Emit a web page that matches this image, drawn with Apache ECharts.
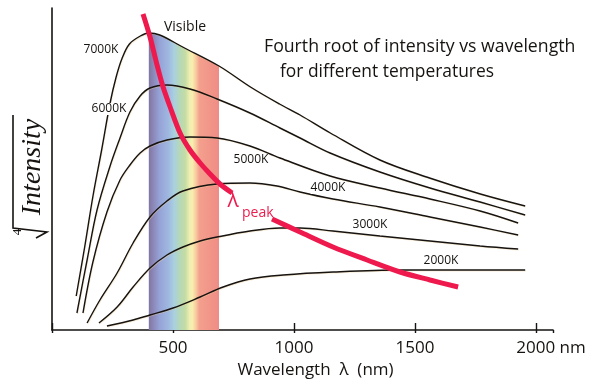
<!DOCTYPE html>
<html><head><meta charset="utf-8">
<script src="https://cdn.jsdelivr.net/npm/echarts/dist/echarts.min.js"></script>
<style>html,body{margin:0;padding:0;background:#fff}#c{width:599px;height:388px}</style>
</head><body><div id="c"></div>
<script>
// ---- data (wavelength nm, fourth-root intensity in arbitrary units) ----
const xTicks = [500, 1000, 1500, 2000];
const visibleRange = [400, 690];
const k7000 = [[100,34],[135,83],[170,135],[205,180],[240,227],[265,253],[290,272],[320,286],[365,294],[400,297],[445,295],[540,283],[690,264],[820,243],[940,226],[1025,215],[1150,197],[1355,170],[1560,152],[1770,136],[1955,124]];
const k6000 = [[103,17],[145,70],[186,120],[240,164],[281,192],[322,218],[364,234],[405,242],[475,245],[570,241],[682,231],[818,217],[942,202],[1025,192],[1149,177],[1355,158],[1562,142],[1769,128],[1955,115]];
const k5000 = [[128,17],[169,68],[227,118],[281,150],[322,165],[364,177],[405,184],[475,190],[570,193],[682,192],[818,184],[942,172],[1149,154],[1355,142],[1562,131],[1769,119],[1926,107]];
const k4000 = [[145,7],[198,30],[269,57],[335,87],[405,113],[475,129],[541,139],[682,146],[818,147],[930,144],[1025,138],[1161,131],[1355,123],[1562,113],[1769,103],[1926,95]];
const k3000 = [[194,7],[269,23],[335,43],[405,62],[475,75],[541,83],[612,89],[682,93],[818,99],[942,102],[1025,102],[1161,99],[1355,94],[1562,89],[1769,84],[1926,81]];
const k2000 = [[227,4],[335,10],[405,15],[500,22],[612,33],[707,43],[818,51],[955,55],[1161,58],[1438,60],[1645,60],[1955,60]];
const peakA = [[376,316],[405,293],[434,265],[459,243],[488,223],[529,197],[570,180],[612,167],[653,156],[694,146],[744,137]];
const peakB = [[909,111],[1025,98],[1161,83],[1302,70],[1438,58],[1562,50],[1678,43]];
const curveNames = ['7000K','6000K','5000K','4000K','3000K','2000K'];

const chart = echarts.init(document.getElementById('c'), null, {renderer:'canvas'});
const INK = '#161310';
const SANS = '"Open Sans", "Noto Sans", sans-serif';
const shadowTxt = {textShadowColor:'rgba(230,195,140,0.45)', textShadowOffsetX:0.6, textShadowOffsetY:0.8, textShadowBlur:0};

function curve(name, data){
  return {type:'line', name, data, smooth:0.35, symbol:'none', silent:true, z:3,
    lineStyle:{color:INK, width:1.4, shadowColor:'rgba(235,205,150,0.4)', shadowOffsetX:0.6, shadowOffsetY:0.8, shadowBlur:0}};
}

const band = k7000.filter(p => p[0] >= visibleRange[0] && p[0] <= visibleRange[1]);

const labelPos = [[101,50],[109,109],[251,160],[328,188],[370,225],[441,261]];
const graphics = curveNames.map((t,i)=>({type:'text', x:labelPos[i][0], y:labelPos[i][1], z:10,
  style:Object.assign({text:t, fill:INK, font:'12px '+SANS, align:'center', verticalAlign:'middle', textAlign:'center', textVerticalAlign:'middle', backgroundColor:'#fff'}, shadowTxt)}));

graphics.push(
  {type:'text', x:185, y:27, z:10, style:Object.assign({text:'Visible', fill:INK, font:'14px '+SANS, align:'center', verticalAlign:'middle', textAlign:'center', textVerticalAlign:'middle'}, shadowTxt)},
  {type:'text', x:264, y:47, z:10, style:Object.assign({text:'Fourth root of intensity vs wavelength', fill:INK, font:'17.7px '+SANS, align:'left', verticalAlign:'middle', textAlign:'left', textVerticalAlign:'middle'}, shadowTxt)},
  {type:'text', x:280, y:72, z:10, style:Object.assign({text:'for different temperatures', fill:INK, font:'17.4px '+SANS, align:'left', verticalAlign:'middle', textAlign:'left', textVerticalAlign:'middle'}, shadowTxt)},
  {type:'text', x:233, y:201, z:10, style:{text:'λ', fill:'#ec1c4f', font:'21px '+SANS, align:'center', verticalAlign:'middle', textAlign:'center', textVerticalAlign:'middle'}},
  {type:'text', x:242, y:213, z:10, style:{text:'peak', fill:'#ec1c4f', font:'14px '+SANS, align:'left', verticalAlign:'middle', textAlign:'left', textVerticalAlign:'middle'}},
  // y-axis label: fourth root of Intensity
  {type:'text', x:33, y:167, rotation:Math.PI/2, z:10, style:Object.assign({text:'Intensity', fill:INK, font:'italic 28px "Liberation Serif", serif', align:'center', verticalAlign:'middle', textAlign:'center', textVerticalAlign:'middle'}, shadowTxt)},
  {type:'polyline', z:10, shape:{points:[[13,115],[13,228],[47,232],[36,238]]}, style:{stroke:INK, lineWidth:1.6, fill:null}},
  {type:'text', x:18, y:232, rotation:Math.PI/2, z:10, style:{text:'4', fill:INK, font:'13px "Liberation Serif", serif', align:'center', verticalAlign:'middle', textAlign:'center', textVerticalAlign:'middle'}}
);

const option = {
  animation:false,
  backgroundColor:'#fff',
  grid:{left:52, right:46, top:8, bottom:58, containLabel:false},
  xAxis:[{
    type:'value', min:0, max:2070, interval:500,
    axisLine:{show:true, lineStyle:{color:INK, width:1.6}},
    axisTick:{show:true, inside:true, length:7, lineStyle:{color:INK, width:1.4}},
    splitLine:{show:false},
    axisLabel:{color:INK, fontSize:17, fontFamily:SANS, margin:10, showMaxLabel:false,
      formatter:v => xTicks.indexOf(v) < 0 ? '' : (v === 2000 ? '{pad|}' + v + ' nm' : String(v)),
      rich:{pad:{width:30}}},
    name:'Wavelength  λ  (nm)', nameLocation:'middle', nameGap:30,
    nameTextStyle:{color:INK, fontSize:17, fontFamily:SANS, padding:[0,0,0,26]}
  },{
    type:'value', min:0, max:2070, interval:500, position:'bottom',
    axisLine:{show:false}, axisLabel:{show:false}, splitLine:{show:false},
    axisTick:{show:true, inside:false, length:3, lineStyle:{color:INK, width:1.4}}
  }],
  yAxis:{type:'value', min:0, max:322, axisLine:{show:true, lineStyle:{color:INK, width:1.6}},
    axisTick:{show:false}, axisLabel:{show:false}, splitLine:{show:false}},
  graphic:graphics,
  series:[
    {type:'line', name:'Visible', data:band, smooth:0.35, symbol:'none', silent:true, z:1,
      lineStyle:{width:0},
      areaStyle:{opacity:1, color:new echarts.graphic.LinearGradient(0,0,1,0,[
        {offset:0, color:'#7e77a2'},{offset:0.06, color:'#8c86b6'},{offset:0.15, color:'#95a2d6'},
        {offset:0.28, color:'#9fb8e0'},{offset:0.36, color:'#a9d0e0'},{offset:0.44, color:'#b5d8b8'},
        {offset:0.52, color:'#c4dca4'},{offset:0.58, color:'#eeeeb0'},{offset:0.62, color:'#f8eeb0'},
        {offset:0.67, color:'#f8cca0'},{offset:0.72, color:'#f4a08e'},{offset:1, color:'#ef8c84'}])}},
    curve('7000K', k7000), curve('6000K', k6000), curve('5000K', k5000),
    curve('4000K', k4000), curve('3000K', k3000), curve('2000K', k2000),
    {type:'line', name:'λpeak', data:peakA, smooth:0.3, symbol:'none', silent:true, z:5, lineStyle:{color:'#ee1a4e', width:5, cap:'butt'}},
    {type:'line', name:'λpeak2', data:peakB, smooth:0.3, symbol:'none', silent:true, z:5, lineStyle:{color:'#ee1a4e', width:5, cap:'butt'}}
  ]
};
chart.setOption(option);
</script></body></html>
